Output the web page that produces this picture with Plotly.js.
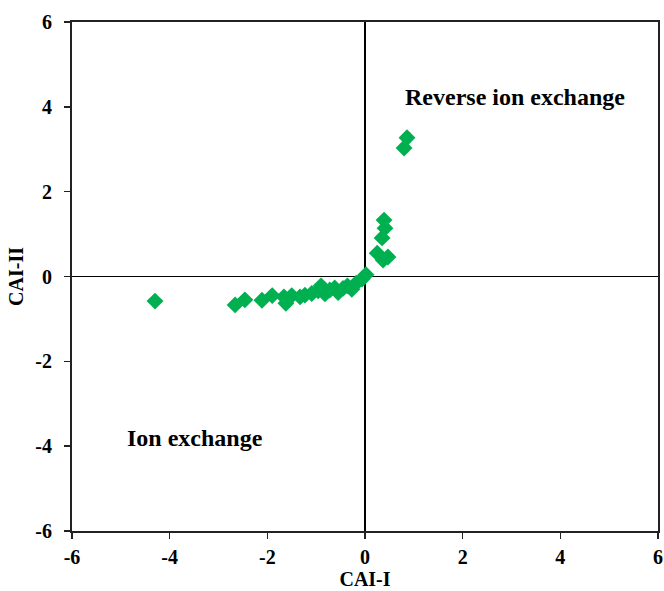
<!DOCTYPE html>
<html>
<head>
<meta charset="utf-8">
<script src="https://cdn.plot.ly/plotly-3.0.1.min.js"></script>
<style>html,body{margin:0;padding:0;background:#fff}#chart{width:664px;height:591px}</style>
</head>
<body>
<div id="chart"></div>
<script>
// CAI-I (x) and CAI-II (y) values
const caiI = [-4.30, -2.66, -2.46, -2.11, -1.90, -1.66, -1.62, -1.50, -1.33, -1.23, -1.09, -0.96, -0.90, -0.82, -0.72, -0.62, -0.55, -0.45, -0.36, -0.27, -0.18, -0.06, 0.02, 0.25, 0.37, 0.47, 0.35, 0.41, 0.39, 0.80, 0.86];
const caiII = [-0.58, -0.67, -0.55, -0.56, -0.45, -0.48, -0.63, -0.45, -0.48, -0.44, -0.40, -0.34, -0.22, -0.41, -0.32, -0.27, -0.38, -0.28, -0.22, -0.30, -0.16, -0.06, 0.04, 0.55, 0.39, 0.46, 0.91, 1.14, 1.33, 3.03, 3.27];
const annText = ["Reverse ion exchange", "Ion exchange"];
const annX = [3.07, -3.48];
const annY = [4.23, -3.81];
const tickVals = [-6, -4, -2, 0, 2, 4, 6];
const tickText = ["-6", "-4", "-2", "0", "2", "4", "6"];

const fam = 'Liberation Serif, Times New Roman, serif';
const tickFont = {family: fam, size: 20, color: '#000', weight: 'bold'};
const titleFont = {family: fam, size: 20, color: '#000', weight: 'bold'};
const annFont = {family: fam, size: 24, color: '#000', weight: 'bold'};

const axisCommon = {
  range: [-6, 6], tickvals: tickVals, ticktext: tickText,
  showgrid: false, zeroline: true, zerolinecolor: '#000', zerolinewidth: 1.5,
  showline: true, mirror: true, linecolor: '#222', linewidth: 2,
  ticks: 'outside', ticklen: 6, tickwidth: 1.5, tickcolor: '#222',
  tickfont: tickFont
};

Plotly.newPlot('chart', [{
  x: caiI, y: caiII, type: 'scatter', mode: 'markers',
  marker: {symbol: 'diamond', size: 13, color: '#00B050'}
}], {
  width: 664, height: 591,
  margin: {l: 72, r: 6, t: 22, b: 60},
  paper_bgcolor: '#fff', plot_bgcolor: '#fff',
  showlegend: false,
  xaxis: Object.assign({}, axisCommon, {ticklabelstandoff: 1, title: {text: 'CAI-I', font: titleFont, standoff: 4}}),
  yaxis: Object.assign({}, axisCommon, {ticklabelstandoff: 8, title: {text: 'CAI-II', font: titleFont, standoff: 6}}),
  annotations: annText.map((t, i) => ({
    x: annX[i], y: annY[i], xref: 'x', yref: 'y', text: t,
    showarrow: false, font: annFont
  }))
}, {displayModeBar: false, staticPlot: true});
</script>
</body>
</html>
